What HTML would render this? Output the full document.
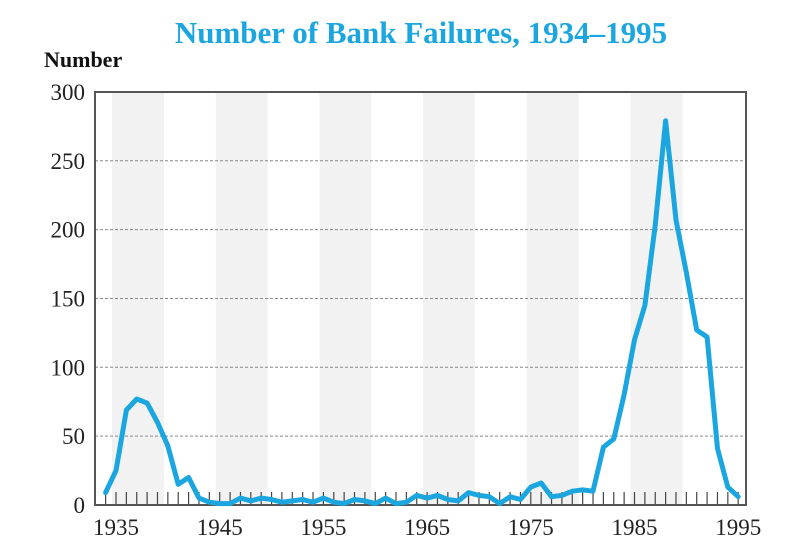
<!DOCTYPE html>
<html><head><meta charset="utf-8"><style>
body{margin:0;background:#fff;width:800px;height:556px;overflow:hidden}
svg{display:block}
text{font-family:"Liberation Serif",serif}
</style></head><body>
<svg id="s" width="800" height="556" viewBox="0 0 800 556">
<text x="421" y="43" text-anchor="middle" font-size="31" font-weight="bold" fill="#1ba6e0">Number of Bank Failures, 1934–1995</text>
<text x="44" y="67" font-size="22" font-weight="bold" fill="#111">Number</text>
<g id="bands"></g>
<g id="grid"></g>
<g id="ticks"></g>
<rect x="95" y="92" width="651" height="413" fill="none" stroke="#555" stroke-width="2"/>
<polyline id="line" fill="none" stroke="#1ba6e0" stroke-width="5" stroke-linejoin="round" stroke-linecap="round"/>
<g id="labels" font-size="23" fill="#222"></g>
</svg>
<script>
var NS="http://www.w3.org/2000/svg";
function el(p,t,a,tx){var e=document.createElementNS(NS,t);for(var k in a)e.setAttribute(k,a[k]);if(tx!=null)e.textContent=tx;document.getElementById(p).appendChild(e);return e;}
function X(y){return 116+(y-1935)*10.37;}
function Y(v){return 505-v*1.377;}
for(var b=0;b<6;b++){el("bands","rect",{x:X(1935+b*10)-4,y:92,width:52,height:413,fill:"#f2f2f2"});}
for(var v=50;v<300;v+=50){el("grid","line",{x1:95,x2:746,y1:Y(v),y2:Y(v),stroke:"#888","stroke-dasharray":"3,2","stroke-width":1});}
for(var y=1934;y<=1995;y++){el("ticks","line",{x1:X(y),x2:X(y),y1:505,y2:492,stroke:"#444","stroke-width":1.2});}
for(var v=0;v<=300;v+=50){el("labels","text",{x:85,y:Y(v)+8,"text-anchor":"end"},String(v));}
for(var y=1935;y<=1995;y+=10){el("labels","text",{x:X(y),y:535,"text-anchor":"middle"},String(y));}
var d=[9,25,69,77,74,60,43,15,20,5,2,1,1,5,3,5,4,2,3,4,2,5,2,1,4,3,1,5,1,2,7,5,7,4,3,9,7,6,1,6,4,13,16,6,7,10,11,10,42,48,80,120,145,203,279,207,169,127,122,41,13,6];
var pts=d.map(function(v,i){return X(1934+i).toFixed(1)+","+Y(v).toFixed(1);}).join(" ");
document.getElementById("line").setAttribute("points",pts);
</script>
</body></html>
